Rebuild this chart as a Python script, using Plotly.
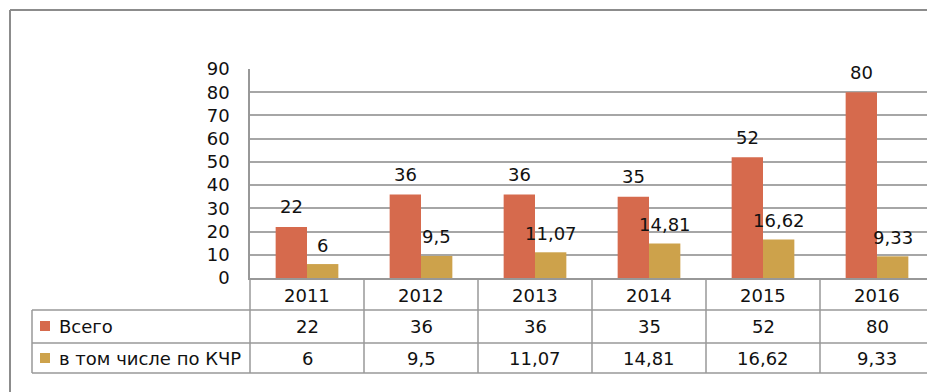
import plotly.graph_objects as go

years = ["2011", "2012", "2013", "2014", "2015", "2016"]
total = [22, 36, 36, 35, 52, 80]
kchr = [6, 9.5, 11.07, 14.81, 16.62, 9.33]
series_names = ["Всего", "в том числе по КЧР"]
y_ticks = [0, 10, 20, 30, 40, 50, 60, 70, 80, 90]

RED = "#D66A4D"
GOLD = "#CDA24B"
GRID = "#A6A6A6"
TXT = "#111111"
FONT = "DejaVu Sans"

W, H = 927, 392
ML, MR, MT, MB = 250, 0, 69, 114
PW, PH = W - ML - MR, H - MT - MB
XR = [-0.5, -0.5 + PW / 114.0]


def fmt(v):
    return f"{v:g}".replace(".", ",")


def px_x(px):
    return (px - ML) / PW


def px_y(py):
    return (H - MB - py) / PH


def cat_x(c):
    return (c - XR[0]) / (XR[1] - XR[0])


fig = go.Figure()
fig.add_trace(go.Bar(x=years, y=total, name=series_names[0], marker_color=RED,
                     marker_line_width=0))
fig.add_trace(go.Bar(x=years, y=kchr, name=series_names[1], marker_color=GOLD,
                     marker_line_width=0))

annotations = []
bar_off = (1 - 0.45) / 4
for i, (a, b) in enumerate(zip(total, kchr)):
    annotations.append(dict(x=i - bar_off, y=a, xref="x", yref="y", text=fmt(a),
                            showarrow=False, yshift=20, yanchor="middle",
                            font=dict(family=FONT, size=18, color=TXT)))
    annotations.append(dict(x=i + bar_off, y=b, xref="x", yref="y", text=fmt(b),
                            showarrow=False, yshift=19, yanchor="middle",
                            font=dict(family=FONT, size=18, color=TXT)))

# table text
rows_y = [295, 326, 358]
for i, yr in enumerate(years):
    for val, ry in zip([yr, fmt(total[i]), fmt(kchr[i])], rows_y):
        annotations.append(dict(x=i, y=px_y(ry), xref="x", yref="paper", text=val,
                                showarrow=False, yanchor="middle", xanchor="center",
                                font=dict(family=FONT, size=18, color=TXT)))
for name, ry in zip(series_names, rows_y[1:]):
    annotations.append(dict(x=px_x(57), y=px_y(ry), xref="paper", yref="paper",
                            text=name, showarrow=False, xanchor="left", yanchor="middle",
                            font=dict(family=FONT, size=18, color=TXT)))

shapes = []
line_style = dict(color="#989898", width=1.5)
for py in [310, 343, 373]:
    shapes.append(dict(type="line", xref="paper", yref="paper", x0=px_x(32), x1=px_x(W + 5),
                       y0=px_y(py), y1=px_y(py), line=line_style))
shapes.append(dict(type="line", xref="paper", yref="paper", x0=px_x(32), x1=px_x(32),
                   y0=px_y(310), y1=px_y(373), line=line_style))
for k in range(len(years) + 1):
    cx = cat_x(k - 0.5)
    if cx <= 1.0:
        shapes.append(dict(type="line", xref="paper", yref="paper", x0=cx, x1=cx,
                           y0=px_y(278), y1=px_y(373), line=line_style))
# legend keys
for col, ry in zip([RED, GOLD], rows_y[1:]):
    shapes.append(dict(type="rect", xref="paper", yref="paper", x0=px_x(40), x1=px_x(50),
                       y0=px_y(ry - 5), y1=px_y(ry + 5), fillcolor=col, line_width=0))
# outer frame
frame = dict(color="#8C8C8C", width=2)
shapes.append(dict(type="line", xref="paper", yref="paper", x0=px_x(10), x1=px_x(W + 5),
                   y0=px_y(10), y1=px_y(10), line=frame))
shapes.append(dict(type="line", xref="paper", yref="paper", x0=px_x(10), x1=px_x(10),
                   y0=px_y(10), y1=px_y(H + 5), line=frame))

fig.update_layout(
    width=W, height=H,
    margin=dict(l=ML, r=MR, t=MT, b=MB, pad=0),
    paper_bgcolor="white", plot_bgcolor="white",
    barmode="group", bargap=0.45, bargroupgap=0,
    showlegend=False,
    annotations=annotations, shapes=shapes,
    font=dict(family=FONT, size=18, color=TXT),
)
fig.update_xaxes(type="category", range=XR, showticklabels=False, ticks="",
                 showgrid=False, showline=True, linecolor="#989898", linewidth=1.5,
                 zeroline=False)
fig.update_yaxes(range=[0, 90], tickvals=y_ticks, ticktext=[str(t) for t in y_ticks],
                 showgrid=True, gridcolor=GRID, gridwidth=1.5,
                 showline=True, linecolor="#989898", linewidth=1.5,
                 zeroline=False, ticks="", ticklabelstandoff=15,
                 tickfont=dict(family=FONT, size=18, color=TXT))

fig.write_html("out.html")
